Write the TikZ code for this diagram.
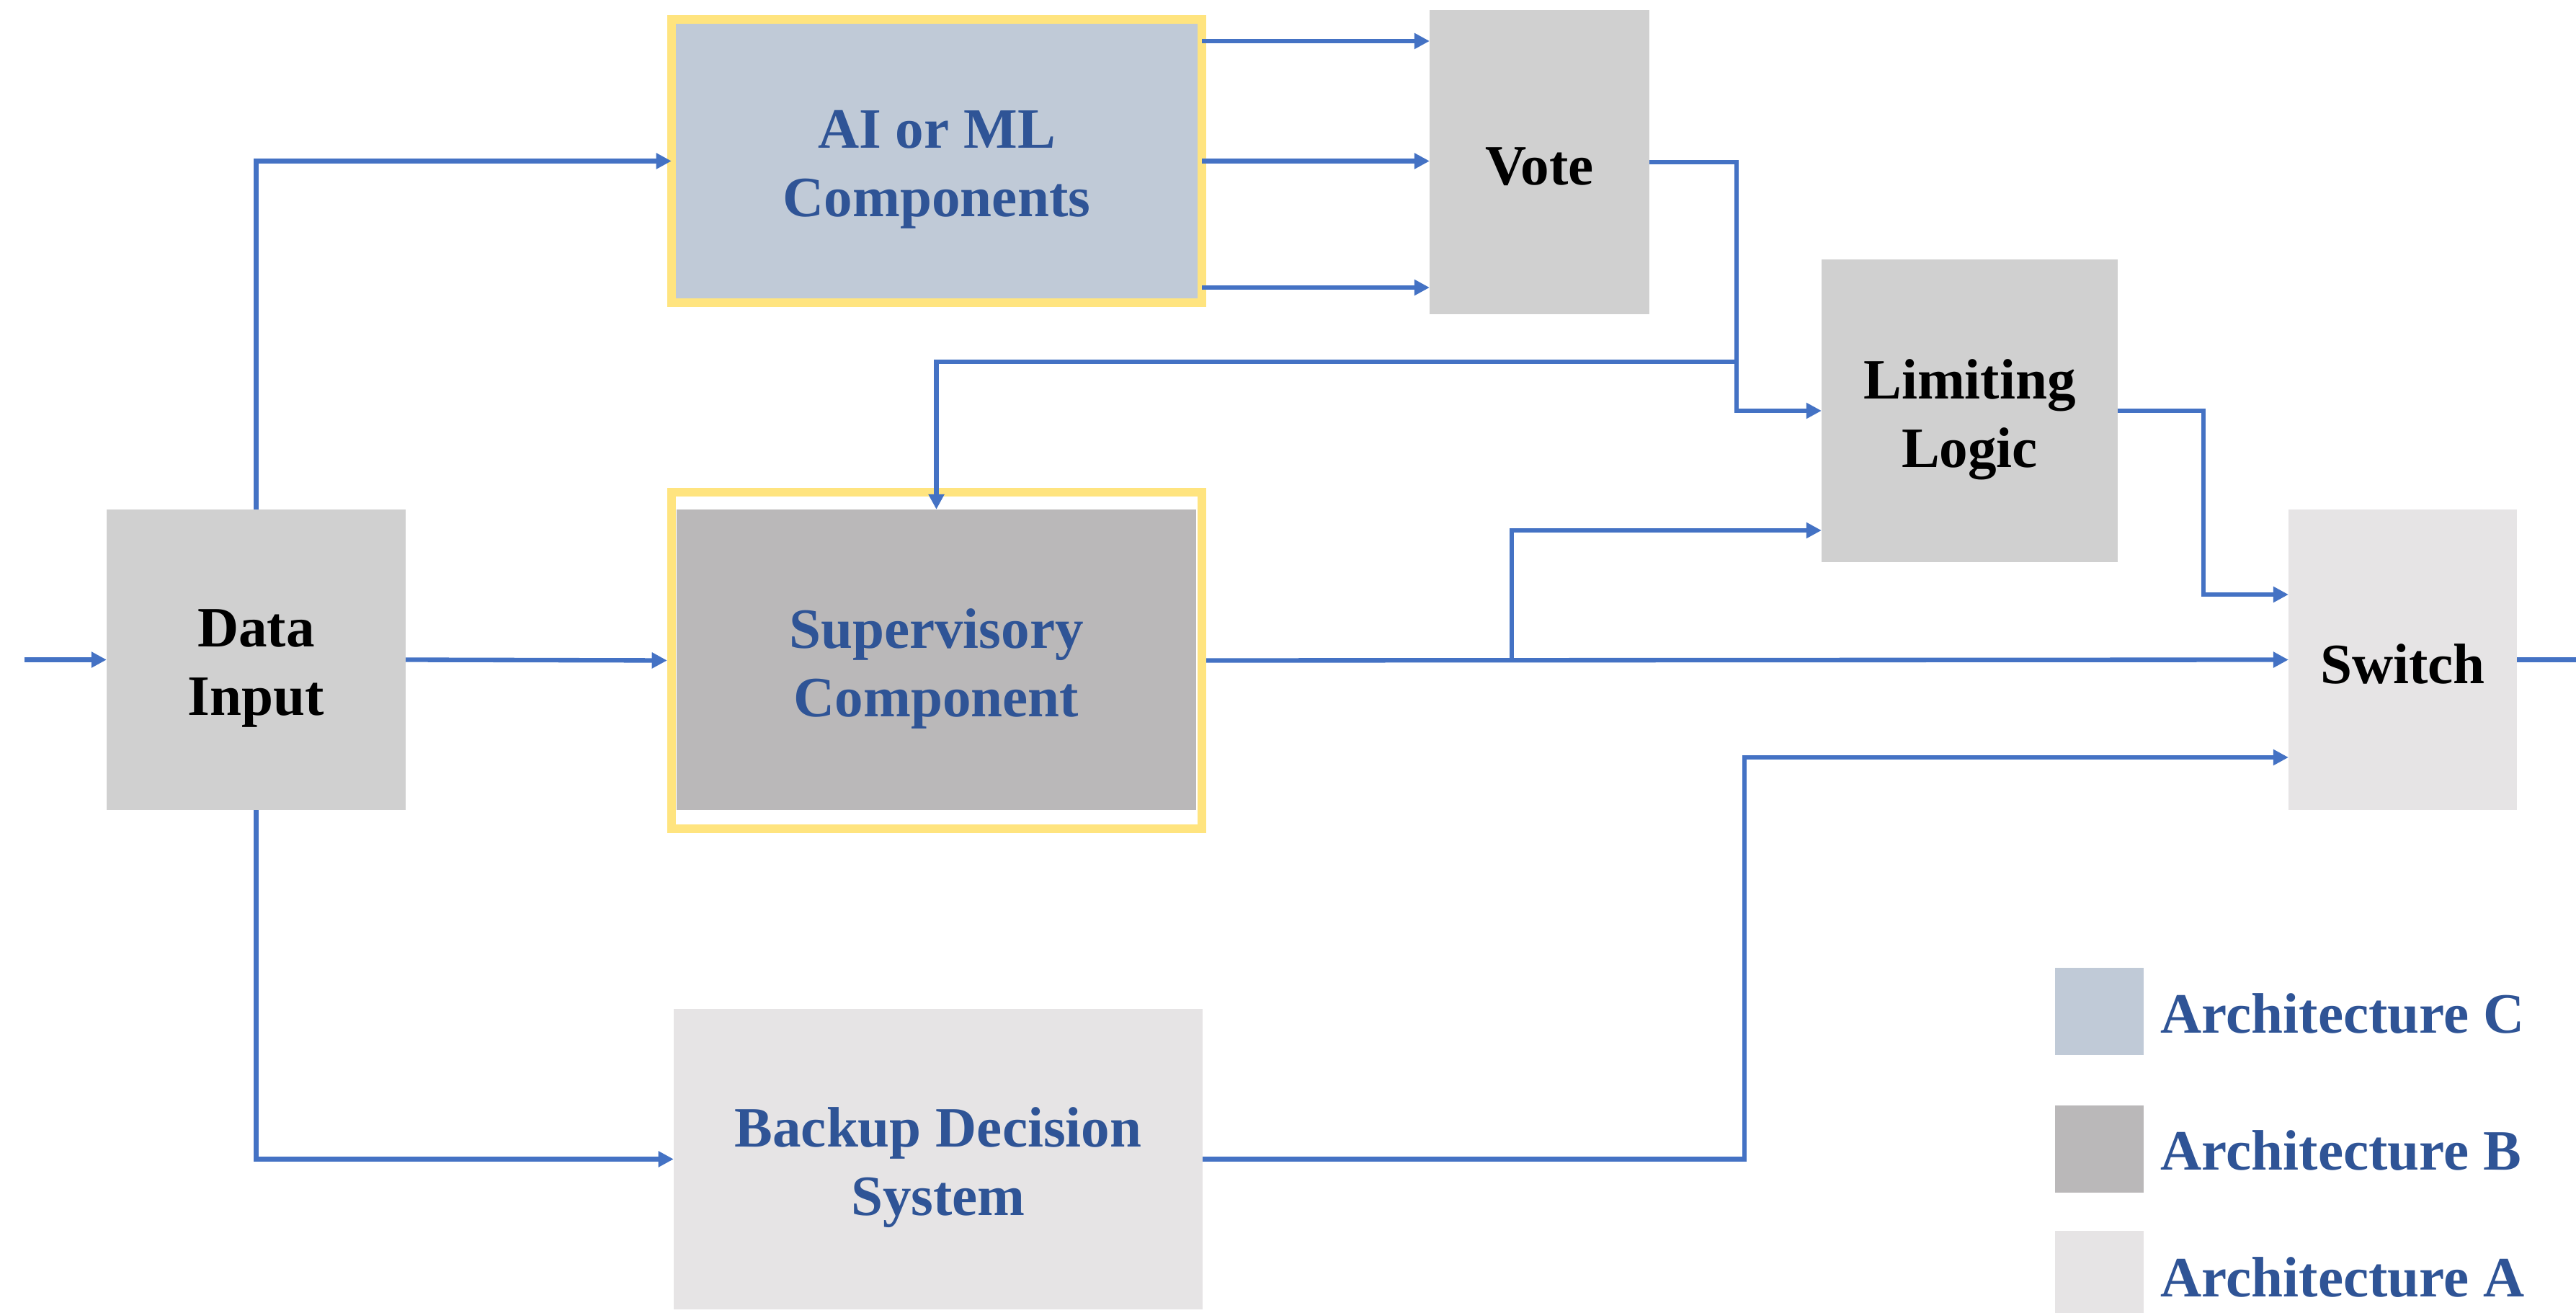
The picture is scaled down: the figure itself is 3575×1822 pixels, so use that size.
\documentclass[tikz,border=0pt]{standalone}
\usepackage{fontspec}
\setmainfont{Liberation Serif}
\usetikzlibrary{arrows.meta,calc}
\definecolor{linec}{HTML}{4472C4}
\definecolor{txtblue}{HTML}{2F5496}
\definecolor{fillC}{HTML}{C0CAD7}
\definecolor{fillB}{HTML}{BAB8B9}
\definecolor{fillA}{HTML}{E6E4E5}
\definecolor{fillG}{HTML}{D0D0D0}
\definecolor{frameY}{HTML}{FFE47F}
\begin{document}
\begin{tikzpicture}[x=0.01cm,y=-0.01cm,
  box/.style={rectangle, inner sep=0pt, outer sep=0pt},
  txt/.style={inner sep=0pt, align=center, yshift=-0.12cm,
    font=\bfseries\fontsize{22.5}{27}\selectfont},
  txtone/.style={txt, yshift=0.06cm},
  frame/.style={rectangle, inner sep=0pt, draw=frameY, line width=3.4pt},
  arr/.style={draw=linec, line width=1.8pt, -{Triangle[length=6pt,width=6pt]}},
  ln/.style={draw=linec, line width=1.8pt},
  legtxt/.style={anchor=west, inner sep=0pt, text=txtblue,
    font=\bfseries\fontsize{22.5}{27}\selectfont}]
\useasboundingbox (0,0) rectangle (3575,1822);
\fill[white] (0,0) rectangle (3575,1822);

% nodes
\node[box, fill=fillG, minimum width=4.15cm, minimum height=4.17cm,
  label={[txt]center:{Data\\Input}}] (din) at (355.5,915.5) {};
\node[box, frame, fill=fillC, minimum width=7.36cm, minimum height=3.93cm,
  label={[txt, text=txtblue]center:{AI or ML\\Components}}] (ai) at (1300,223.5) {};
\node[box, fill=fillB, minimum width=7.21cm, minimum height=4.17cm,
  label={[txt, text=txtblue]center:{Supervisory\\Component}}] (sup) at (1299.5,915.5) {};
\node[frame, minimum width=7.36cm, minimum height=4.67cm] (supframe) at (1300,916.5) {};
\node[box, fill=fillA, minimum width=7.34cm, minimum height=4.17cm,
  label={[txt, text=txtblue]center:{Backup Decision\\System}}] (backup) at (1302,1608.5) {};
\node[box, fill=fillG, minimum width=3.05cm, minimum height=4.22cm,
  label={[txtone]center:{Vote}}] (vote) at (2136.5,225) {};
\node[box, fill=fillG, minimum width=4.11cm, minimum height=4.20cm,
  label={[txt]center:{Limiting\\Logic}}] (lim) at (2733.5,570) {};
\node[box, fill=fillA, minimum width=3.17cm, minimum height=4.17cm,
  label={[txtone]center:{Switch}}] (switch) at (3334.5,915.5) {};

% legend
\node[box, fill=fillC, minimum width=1.23cm, minimum height=1.21cm] (legC) at (2913.5,1403.5) {};
\node[box, fill=fillB, minimum width=1.23cm, minimum height=1.21cm] (legB) at (2913.5,1594.5) {};
\node[box, fill=fillA, minimum width=1.23cm, minimum height=1.22cm] (legA) at (2913.5,1769) {};
\node[legtxt] (legCt) at (2998,1407) {Architecture C};
\node[legtxt] (legBt) at (2998,1597) {Architecture B};
\node[legtxt] (legAt) at (2998,1773) {Architecture A};

% connectors
\coordinate (inp) at (34,915.5);
\coordinate (outp) at (3575,915.5);
\coordinate (j) at (2410,502);
\coordinate (br) at (2098,915.5);
\draw[arr] (inp) -- (din.west);
\draw[ln] (switch.east) -- (outp);
\draw[arr] (din.north) |- (ai.west);
\draw[arr] (din.east) -- (supframe.west);
\draw[arr] (din.south) |- (backup.west);
\draw[arr] (ai.east |- 0,57) -- (vote.west |- 0,57);
\draw[arr] (ai.east |- 0,223.5) -- (vote.west |- 0,223.5);
\draw[arr] (ai.east |- 0,399) -- (vote.west |- 0,399);
\draw[arr] (vote.east) -- ++(121,0) |- (lim.west);
\draw[arr] (j) -| (sup.north);
\draw[arr] (supframe.east) -- (switch.west);
\draw[arr] (br) |- (lim.west |- 0,736);
\draw[arr] (lim.east) -- ++(119,0) |- (switch.west |- 0,825);
\draw[arr] (backup.east) -- ++(752,0) |- (switch.west |- 0,1051);
\end{tikzpicture}
\end{document}
